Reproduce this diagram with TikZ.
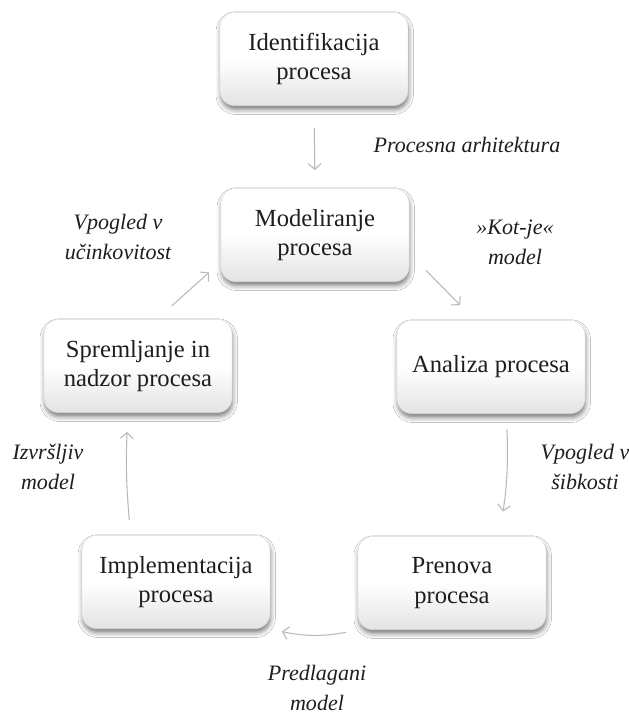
\documentclass[tikz,border=0pt]{standalone}
\usepackage{fontspec}
\setmainfont{Liberation Serif}
\usetikzlibrary{arrows.meta, shadows.blur}
\definecolor{arrowgray}{RGB}{185,185,185}
\definecolor{textgray}{RGB}{30,30,30}
\tikzset{%
  stage/.style={         % process boxes
    rectangle,
    rounded corners=0.45cm,
    draw=gray!30,
    top color=white,
    bottom color=gray!22,
    middle color=white,
    minimum width=5.64cm,
    minimum height=2.8cm,
    align=center,
    text=textgray,
    font=\fontsize{21}{25}\selectfont,
    blur shadow={shadow xshift=0.6pt, shadow yshift=-3.5pt,
      shadow blur radius=4pt, shadow opacity=50}},
  tag/.style={           % italic side labels
    align=center,
    text=textgray,
    font=\fontsize{18.8}{25.5}\selectfont\itshape},
  every edge/.style={
    draw=arrowgray,
    line width=0.9pt,
    ->,
    >={Straight Barb[length=5pt, width=11pt]}} %
}

\begin{document}
\begin{tikzpicture}[x=0.03cm, y=-0.03cm]
  \path[use as bounding box, fill=white] (0,0) rectangle (629,716);

  \node[stage] (ident)   at (314,59)  {Identifikacija\\procesa};
  \node[stage] (model)   at (315,235) {Modeliranje\\procesa};
  \node[stage] (analiza) at (491,367) {Analiza procesa};
  \node[stage] (sprem)   at (138,366) {Spremljanje in\\nadzor procesa};
  \node[stage] (prenova) at (452,583) {Prenova\\procesa};
  \node[stage] (impl)    at (176,582) {Implementacija\\procesa};

  \node[tag] (arh)    at (467,145) {Procesna arhitektura};
  \node[tag] (kotje)  at (515,242) {»Kot-je«\\model};
  \node[tag] (ucink)  at (118,237) {Vpogled v\\učinkovitost};
  \node[tag] (sibk)   at (585,467) {Vpogled v\\šibkosti};
  \node[tag] (izvr)   at (48,467)  {Izvršljiv\\model};
  \node[tag] (predl)  at (317,688) {Predlagani\\model};

  \draw
        (ident.south) edge [shorten <=0.66cm, shorten >=0.54cm] (model.north)
        (model.-11)   edge [shorten <=0.72cm, shorten >=0.63cm] (analiza.109)
        (analiza.-72) edge [bend left=6, shorten <=0.45cm, shorten >=0.75cm] (prenova.45)
        (prenova.south west) edge [bend left=12, shorten <=0.36cm, shorten >=0.36cm] (impl.south east)
        (impl.134)    edge [bend left=4, shorten <=0.45cm, shorten >=0.57cm] (sprem.-102)
        (sprem.68)    edge [shorten <=0.59cm, shorten >=0.47cm] (model.196)
  ;

\end{tikzpicture}
\end{document}
